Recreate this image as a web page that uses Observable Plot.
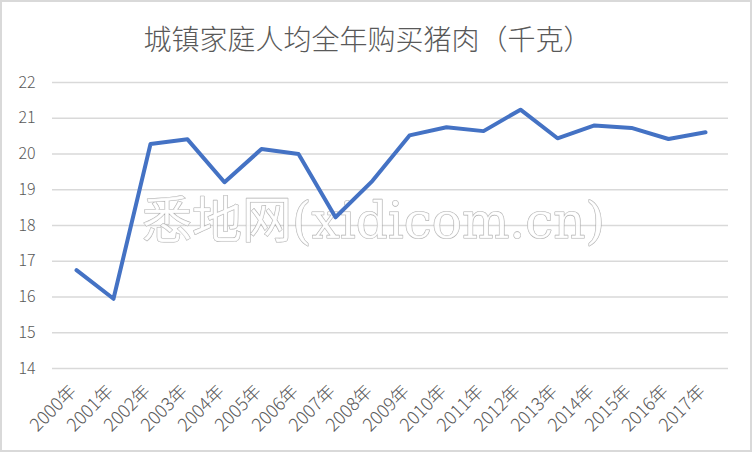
<!DOCTYPE html>
<html>
<head>
<meta charset="utf-8">
<script src="https://cdn.jsdelivr.net/npm/d3@7"></script>
<script src="https://cdn.jsdelivr.net/npm/@observablehq/plot@0.6"></script>
<style>
  html, body { margin: 0; padding: 0; background: #fff; }
  #wrap { position: relative; width: 752px; height: 452px; overflow: hidden; }
  #border { position: absolute; left: 0; top: 0; width: 752px; height: 452px; box-sizing: border-box; border: 2px solid #d9d9d9; pointer-events: none; }
</style>
</head>
<body>
<div id="wrap"><div id="border"></div></div>
<script>
const title = "城镇家庭人均全年购买猪肉（千克）";
const watermark = "悉地网(xidicom.cn)";
const years = ["2000年","2001年","2002年","2003年","2004年","2005年","2006年","2007年","2008年","2009年","2010年","2011年","2012年","2013年","2014年","2015年","2016年","2017年"];
const values = [16.75, 15.95, 20.28, 20.41, 19.21, 20.14, 20.0, 18.23, 19.25, 20.52, 20.75, 20.64, 21.24, 20.44, 20.80, 20.73, 20.42, 20.61];
const yTicks = [14, 15, 16, 17, 18, 19, 20, 21, 22];

const data = years.map((year, i) => ({year, value: values[i]}));
const font = "'Noto Sans CJK SC', 'Noto Sans', sans-serif";

const chart = Plot.plot({
  width: 752,
  height: 452,
  marginLeft: 52,
  marginRight: 24,
  marginTop: 82,
  marginBottom: 84,
  style: {fontFamily: font, color: "#595959", background: "transparent"},
  x: {type: "point", domain: years, padding: 0.5},
  y: {domain: [14, 22]},
  marks: [
    Plot.gridY(yTicks, {stroke: "#d9d9d9", strokeOpacity: 1, strokeWidth: 1.5}),
    Plot.axisY(yTicks, {tickSize: 0, tickPadding: 17, fontSize: 16, fontWeight: 300, fill: "#595959", label: null}),
    Plot.axisX({tickSize: 0, tickPadding: 20, tickRotate: -45, fontSize: 18, fontWeight: 300, dx: -3, fill: "#595959", label: null}),
    Plot.text([watermark], {frameAnchor: "top-left", dx: 321, dy: 120, textAnchor: "middle", fontSize: 50, fontFamily: "'DejaVu Serif', 'Noto Sans CJK SC', serif", fill: "white", fillOpacity: 0.85, stroke: "#a6a6a6", strokeWidth: 1.1, strokeOpacity: 0.9}),
    Plot.line(data, {x: "year", y: "value", stroke: "#4472c4", strokeWidth: 4, strokeLinejoin: "round", strokeLinecap: "round"}),
    Plot.text([title], {frameAnchor: "top-left", dx: 315, dy: -52, textAnchor: "middle", fontSize: 28, fontWeight: 300, fill: "#595959"})
  ]
});
document.getElementById("wrap").insertBefore(chart, document.getElementById("border"));
</script>
</body>
</html>
